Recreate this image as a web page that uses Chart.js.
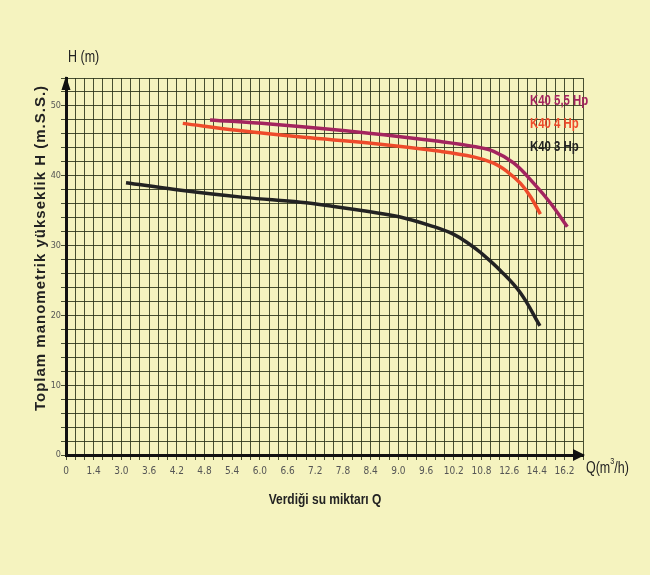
<!DOCTYPE html>
<html>
<head>
<meta charset="utf-8">
<script src="https://cdn.jsdelivr.net/npm/chart.js@4"></script>
<style>
  html, body { margin: 0; padding: 0; background: #f5f3bf; }
  #wrap { width: 650px; height: 575px; }
</style>
</head>
<body>
<div id="wrap"><canvas id="pumpChart" width="650" height="575"></canvas></div>
<script>
// Tick labels on the Q axis (evenly spaced on the sheet, uneven values)
const qLabels = [0, 1.4, 3.0, 3.6, 4.2, 4.8, 5.4, 6.0, 6.6, 7.2, 7.8, 8.4, 9.0, 9.6, 10.2, 10.8, 12.6, 14.4, 16.2];

// K40 3 Hp
const q3 = [3.1, 4.2, 5.65, 6.88, 7.6, 8.32, 9.04, 9.77, 10.2, 10.52, 10.78, 12.04, 13.34, 14.6];
const h3 = [39.0, 38.0, 36.9, 36.2, 35.6, 34.9, 34.1, 32.7, 31.6, 30.3, 29.0, 26.4, 23.2, 18.5];

// K40 4 Hp
const q4 = [4.33, 5.5, 6.95, 8.36, 9.91, 10.63, 11.59, 12.47, 13.34, 13.99, 14.63];
const h4 = [47.5, 46.5, 45.5, 44.7, 43.5, 42.7, 41.8, 40.6, 38.9, 37.0, 34.5];

// K40 5,5 Hp
const q55 = [4.92, 6.22, 8.36, 9.91, 10.63, 11.59, 12.91, 14.2, 15.28, 16.38];
const h55 = [48.0, 47.4, 46.1, 44.9, 44.2, 43.5, 41.8, 38.9, 36.1, 32.7];

// the sheet spaces the Q labels evenly, so place a Q value between its labels
function qToPos(q) {
  for (let i = 0; i < qLabels.length - 1; i++) {
    if (q <= qLabels[i + 1]) {
      return i + (q - qLabels[i]) / (qLabels[i + 1] - qLabels[i]);
    }
  }
  const n = qLabels.length - 1;
  return n + (q - qLabels[n]) / (qLabels[n] - qLabels[n - 1]);
}

function toPoints(qs, hs) {
  return qs.map((q, i) => ({ x: qToPos(q), y: hs[i] }));
}

const condensed = "'DejaVu Sans Condensed', 'Liberation Sans Narrow', 'Liberation Sans', Arial, sans-serif";
const plain = "'Liberation Sans', Arial, sans-serif";

// squeezed text, the sheet uses a narrow typeface
function narrowText(c, text, x, y, font, sx, align) {
  c.save();
  c.font = font;
  c.textAlign = align || "left";
  c.translate(x, y);
  c.scale(sx, 1);
  c.fillText(text, 0, 0);
  c.restore();
}

const sheetPlugin = {
  id: "sheet",
  beforeDraw(chart) {
    const c = chart.ctx;
    c.save();
    c.fillStyle = "#f5f3bf";
    c.fillRect(0, 0, chart.width, chart.height);
    c.restore();
  },
  afterDraw(chart) {
    const c = chart.ctx;
    const a = chart.chartArea;
    c.save();
    // axis arrows
    c.fillStyle = "#111";
    c.beginPath();
    c.moveTo(a.left, a.top - 2);
    c.lineTo(a.left - 4.5, a.top + 12);
    c.lineTo(a.left + 4.5, a.top + 12);
    c.closePath();
    c.fill();
    c.beginPath();
    c.moveTo(a.right + 2, a.bottom);
    c.lineTo(a.right - 10, a.bottom - 6);
    c.lineTo(a.right - 10, a.bottom + 6);
    c.closePath();
    c.fill();

    c.fillStyle = "#222";
    c.textBaseline = "middle";
    narrowText(c, "H (m)", 68, 58, "16px " + plain, 0.78);

    narrowText(c, "Q(m", 586, 469, "16px " + plain, 0.78);
    c.font = "16px " + plain;
    const w1 = c.measureText("Q(m").width * 0.78;
    narrowText(c, "3", 586 + w1, 462, "9px " + plain, 0.8);
    narrowText(c, "/h)", 586 + w1 + 4, 469, "16px " + plain, 0.78);

    narrowText(c, "Verdiği su miktarı Q", 325, 500, "bold 15px " + plain, 0.8, "center");

    c.save();
    c.translate(41, 248);
    c.rotate(-Math.PI / 2);
    c.font = "bold 15px " + plain;
    c.letterSpacing = "1px";
    c.textAlign = "center";
    c.fillText("Toplam manometrik yükseklik H (m.S.S.)", 0, 0);
    c.restore();

    // legend text, top right
    const sets = chart.data.datasets;
    const order = [2, 1, 0];
    order.forEach((k, i) => {
      c.fillStyle = sets[k].borderColor;
      narrowText(c, sets[k].label, 530, 101 + i * 23, "bold 15px " + plain, 0.76);
    });
    c.restore();
  }
};

const ctx = document.getElementById("pumpChart").getContext("2d");

new Chart(ctx, {
  type: "line",
  data: {
    datasets: [
      {
        label: "K40 3 Hp",
        data: toPoints(q3, h3),
        borderColor: "#222222",
        borderWidth: 3.5,
        pointRadius: 0,
        tension: 0.4
      },
      {
        label: "K40 4 Hp",
        data: toPoints(q4, h4),
        borderColor: "#ee4b2b",
        borderWidth: 3.5,
        pointRadius: 0,
        tension: 0.4
      },
      {
        label: "K40 5,5 Hp",
        data: toPoints(q55, h55),
        borderColor: "#a3245e",
        borderWidth: 3.5,
        pointRadius: 0,
        tension: 0.4
      }
    ]
  },
  options: {
    responsive: false,
    animation: false,
    layout: { padding: { left: 36, right: 67, top: 78, bottom: 90 } },
    plugins: {
      legend: { display: false },
      tooltip: { enabled: false }
    },
    scales: {
      x: {
        type: "linear",
        min: 0,
        max: (qLabels.length - 1) + 2 / 3,
        afterBuildTicks(scale) {
          const ticks = [];
          const n = (qLabels.length - 1) * 3 + 2;
          for (let i = 0; i <= n; i++) ticks.push({ value: i / 3 });
          scale.ticks = ticks;
        },
        afterFit(scale) { scale.height = 30; },
        ticks: {
          autoSkip: false,
          maxRotation: 0,
          padding: 5,
          color: "#555",
          font: { family: condensed, size: 10 },
          callback: (v, i) => (i % 3 === 0 && i / 3 < qLabels.length ? qLabels[i / 3].toFixed(1).replace(/^0\.0$/, "0") : "")
        },
        grid: { color: "rgba(40,48,22,0.85)", lineWidth: 1, tickLength: 5 },
        border: { color: "#111", width: 3 }
      },
      y: {
        min: 0,
        max: 54,
        afterFit(scale) { scale.width = 30; },
        ticks: {
          autoSkip: false,
          stepSize: 2,
          padding: 0,
          color: "#555",
          font: { family: condensed, size: 9 },
          callback: (v) => (v % 10 === 0 ? v : "")
        },
        grid: { color: "rgba(40,48,22,0.85)", lineWidth: 1, tickLength: 5 },
        border: { color: "#111", width: 3 }
      }
    }
  },
  plugins: [sheetPlugin]
});
</script>
</body>
</html>
